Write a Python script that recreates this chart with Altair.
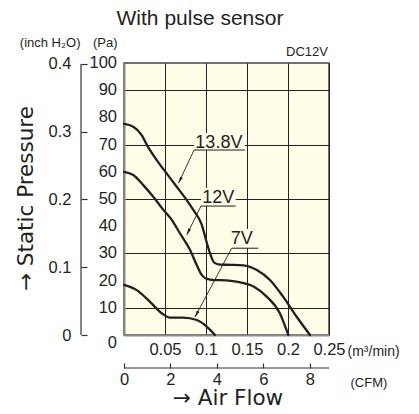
import altair as alt
import pandas as pd

# ---------------- data ----------------
flow_138 = [0, 0.0113, 0.0216, 0.0277, 0.0399, 0.052, 0.0643, 0.0765, 0.0845, 0.0948,
            0.1009, 0.1055, 0.110, 0.117, 0.13, 0.1455, 0.162, 0.178, 0.194, 0.2106, 0.2268]
pres_138 = [77.6, 76.6, 73.5, 70.0, 64.3, 59.4, 54.5, 49.6, 46.0, 40.6,
            34.0, 29.5, 26.6, 25.9, 25.8, 25.6, 23.9, 20.2, 14.1, 6.7, 0]

flow_12 = [0, 0.0113, 0.0235, 0.0357, 0.048, 0.058, 0.068, 0.080, 0.0887, 0.0948,
           0.101, 0.11, 0.125, 0.137, 0.158, 0.174, 0.190, 0.2004]
pres_12 = [60, 58.8, 55.1, 50.8, 46.0, 42.4, 37.5, 31.6, 25.7, 22.1,
           20.6, 20.2, 20.1, 19.6, 17.8, 14.1, 8.0, 0]

flow_7 = [0, 0.0155, 0.0317, 0.046, 0.056, 0.072, 0.0887, 0.1009, 0.111]
pres_7 = [18.4, 16.5, 12.2, 8.0, 6.4, 6.4, 5.5, 3.1, 0]

series_names = ["13.8V", "12V", "7V"]

# annotation labels (data units)
ann_label = ["13.8V", "12V", "7V"]
ann_text_x = [0.1157, 0.115, 0.1435]
ann_text_y = [68.6, 48.4, 33.3]
ann_box_x1 = [0.0854, 0.0939, 0.1313]
ann_box_x2 = [0.1476, 0.1362, 0.1638]
ann_box_y1 = [68.0, 47.4, 31.9]
ann_box_y2 = [74.3, 54.0, 39.0]
ann_tip_x = [0.0665, 0.0765, 0.0866]
ann_tip_y = [55.8, 36.8, 6.6]
ann_angle = [206, 206, 208]

pa_ticks = [10, 20, 30, 40, 50, 60, 70, 80, 90, 100]
pa_labels = ["10", "20", "30", "40", "50", "60", "70", "80", "90", "100"]
inch_ticks = [0, 0.1, 0.2, 0.3, 0.4]
flow_ticks = [0.05, 0.1, 0.15, 0.2, 0.25]
cfm_ticks = [0, 2, 4, 6, 8]

PA_PER_INCH = 249.089
M3MIN_PER_CFM = 0.0283168
FLOW_MAX = 0.25
PA_MAX = 100

# ---------------- style ----------------
INK = "#231f20"
BG = "#FFFCE8"
NUM = "Liberation Sans, Arial, sans-serif"
NUM_SIZE = 16.5
REG = "Liberation Sans, Arial, sans-serif"
WIDE = "DejaVu Sans, sans-serif"
W, H = 205, 272

curve_df = pd.concat([
    pd.DataFrame({"series": s, "flow": fx, "pres": py})
    for s, fx, py in zip(series_names, [flow_138, flow_12, flow_7], [pres_138, pres_12, pres_7])
])
ann_df = pd.DataFrame({
    "label": ann_label, "tx": ann_text_x, "ty": ann_text_y,
    "bx1": ann_box_x1, "bx2": ann_box_x2, "by1": ann_box_y1, "by2": ann_box_y2,
    "px": ann_tip_x, "py": ann_tip_y, "ang": ann_angle,
})
pa_df = pd.DataFrame({"pa": pa_ticks, "lab": pa_labels})

xs = alt.Scale(domain=[0, FLOW_MAX], nice=False, zero=False)
ys = alt.Scale(domain=[0, PA_MAX], nice=False)

x_axis = alt.Axis(values=flow_ticks, format="~g", grid=True, gridColor="#222", gridWidth=1,
                  ticks=False, domain=True, domainColor="#8a8a8a", domainWidth=2,
                  labelFont=NUM, labelFontSize=NUM_SIZE, labelColor=INK, labelPadding=6,
                  labelFlush=False, labelOverlap=False,
                  title="(m³/min)", titleFont=REG, titleFontSize=14, titleFontWeight="normal",
                  titleColor=INK, titleAngle=0, titleAlign="left", titleBaseline="alphabetic",
                  titleX=223, titleY=20)
y_axis = alt.Axis(values=pa_ticks, grid=True, gridColor="#222", gridWidth=1,
                  ticks=False, domain=True, domainColor="#8a8a8a", domainWidth=2,
                  labels=False,
                  title="(Pa)", titleFont=REG, titleFontSize=13, titleFontWeight="normal",
                  titleColor=INK, titleAngle=0, titleAlign="right", titleBaseline="alphabetic",
                  titleX=-7, titleY=-17)

curves = alt.Chart(curve_df).mark_line(
    interpolate="monotone", color=INK, strokeWidth=2.3, strokeCap="round", strokeJoin="round"
).encode(
    x=alt.X("flow:Q", scale=xs, axis=x_axis),
    y=alt.Y("pres:Q", scale=ys, axis=y_axis),
    detail="series:N",
)

pa_text = alt.Chart(pa_df).mark_text(
    font=NUM, fontSize=NUM_SIZE, color=INK, align="right", baseline="middle"
).encode(x=alt.value(-7), y=alt.Y("pa:Q", scale=ys), text="lab:N")

boxes = alt.Chart(ann_df).mark_rect(color=BG).encode(
    x=alt.X("bx1:Q", scale=xs), x2="bx2:Q",
    y=alt.Y("by1:Q", scale=ys), y2="by2:Q")

underline = alt.Chart(ann_df).mark_rule(color=INK, strokeWidth=1).encode(
    x=alt.X("bx1:Q", scale=xs), x2="bx2:Q",
    y=alt.Y("by1:Q", scale=ys))

leaders = alt.Chart(ann_df).mark_rule(color=INK, strokeWidth=0.9).encode(
    x=alt.X("bx1:Q", scale=xs), x2="px:Q",
    y=alt.Y("by1:Q", scale=ys), y2="py:Q")

arrows = alt.Chart(ann_df).mark_point(
    shape="M0,0L-0.5,2.2L0.5,2.2Z", filled=True, color=INK, opacity=1, size=36
).encode(
    x=alt.X("px:Q", scale=xs), y=alt.Y("py:Q", scale=ys), angle=alt.Angle("ang:Q", scale=None))

labels = alt.Chart(ann_df).mark_text(
    font=REG, fontSize=18, color=INK, align="center", baseline="alphabetic"
).encode(x=alt.X("tx:Q", scale=xs), y=alt.Y("ty:Q", scale=ys), text="label:N")

one = pd.DataFrame({"k": [0]})
zero_lbl = alt.Chart(one).mark_text(
    text="0", font=NUM, fontSize=NUM_SIZE, color=INK, align="right", baseline="middle", dy=8
).encode(x=alt.value(-7), y=alt.Y("k:Q", scale=ys))

title_txt = alt.Chart(one).mark_text(text="With pulse sensor", font=REG, fontSize=21, color=INK,
                                     align="center", baseline="alphabetic").encode(
    x=alt.value(76), y=alt.value(-38.5))
dc = alt.Chart(one).mark_text(text="DC12V", font=REG, fontSize=13, color=INK,
                              align="right", baseline="alphabetic").encode(
    x=alt.value(W - 1), y=alt.value(-7))
ylab = alt.Chart(one).mark_text(text="→ Static Pressure", font=WIDE, fontSize=21.5, color=INK,
                                align="left", baseline="alphabetic", angle=270).encode(
    x=alt.value(-91), y=alt.value(228))
xlab = alt.Chart(one).mark_text(text="→ Air Flow", font=WIDE, fontSize=21.5, color=INK,
                                align="center", baseline="alphabetic").encode(
    x=alt.value(104), y=alt.value(H + 70))

main = alt.layer(curves, pa_text, boxes, underline, leaders, arrows, labels, zero_lbl,
                 title_txt, dc, ylab, xlab)

inch_axis = alt.Axis(orient="left", offset=37, values=inch_ticks, format="~g",
                     domain=False, ticks=True, tickSize=6, tickColor="#333", tickWidth=1.2,
                     grid=False, labelFont=NUM, labelFontSize=NUM_SIZE, labelColor=INK,
                     labelPadding=10, labelFlush=False, labelOverlap=False,
                     title="(inch H₂O)", titleFont=REG, titleFontSize=13, titleFontWeight="normal",
                     titleColor=INK, titleAngle=0, titleAlign="right", titleBaseline="alphabetic",
                     titleX=-7, titleY=-17)
inch_layer = alt.Chart(pd.DataFrame({"inch": [0], "inch2": [inch_ticks[-1]]})).mark_rule(
    color="#333", strokeWidth=1.2
).encode(
    y=alt.Y("inch:Q", scale=alt.Scale(domain=[0, PA_MAX / PA_PER_INCH], nice=False), axis=inch_axis),
    y2="inch2:Q",
    x=alt.value(-43),
)

cfm_axis = alt.Axis(orient="bottom", offset=28, values=cfm_ticks, format="~g",
                    domain=False, ticks=True, tickSize=5, tickColor="#333", tickWidth=1.2,
                    grid=False, labelFont=NUM, labelFontSize=NUM_SIZE, labelColor=INK,
                    labelPadding=3, labelFlush=False, labelOverlap=False,
                    title="(CFM)", titleFont=REG, titleFontSize=13, titleFontWeight="normal",
                    titleColor=INK, titleAngle=0, titleAlign="left", titleBaseline="alphabetic",
                    titleX=226, titleY=23)
cfm_layer = alt.Chart(pd.DataFrame({"cfm": [0], "cfm2": [FLOW_MAX / M3MIN_PER_CFM]})).mark_rule(
    color="#333", strokeWidth=1.2
).encode(
    x=alt.X("cfm:Q", scale=alt.Scale(domain=[0, FLOW_MAX / M3MIN_PER_CFM], nice=False), axis=cfm_axis),
    x2="cfm2:Q",
    y=alt.value(H + 33),
)

chart = alt.layer(main, inch_layer, cfm_layer).resolve_scale(
    x="independent", y="independent"
).properties(
    width=W, height=H,
    padding={"left": 116, "top": 55, "right": 82, "bottom": 71},
    autosize=alt.AutoSizeParams(type="none"),
).configure_view(
    fill=BG, stroke="#444", strokeWidth=1.5
)

chart.save("out.html", embed_options={"renderer": "svg", "actions": False})
